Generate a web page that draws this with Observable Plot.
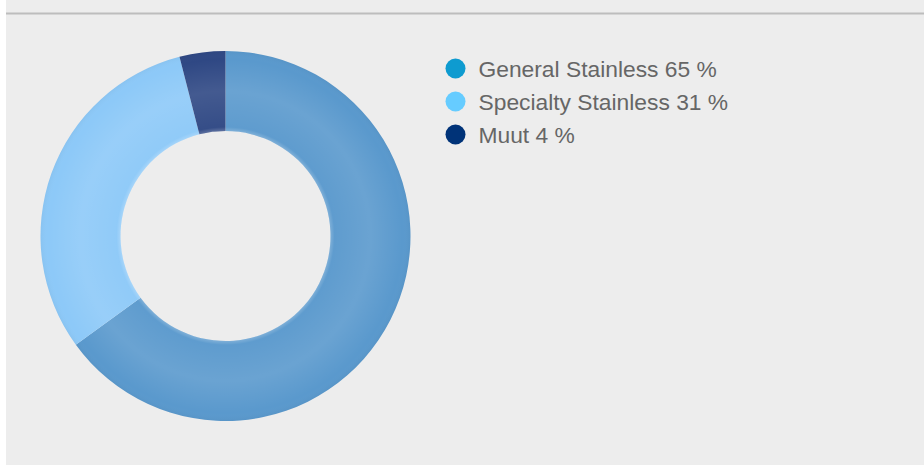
<!DOCTYPE html>
<html>
<head>
<meta charset="utf-8">
<script src="https://cdn.jsdelivr.net/npm/d3@7"></script>
<script src="https://cdn.jsdelivr.net/npm/@observablehq/plot@0.6"></script>
<style>
  html, body { margin: 0; padding: 0; background: #ffffff; }
  #chart { position: absolute; left: 6px; top: 0; }
  svg { display: block; }
</style>
</head>
<body>
<div id="chart"></div>
<script>
// Data
const categories = ["General Stainless", "Specialty Stainless", "Muut"];
const shares = [65, 31, 4];
const sliceColors = ["#5a99cd", "#8dc9f8", "#2f4884"];
const legendColors = ["#0e9bd0", "#66ccff", "#003378"];

const data = categories.map((c, i) => ({category: c, value: shares[i], label: `${c} ${shares[i]} %`}));

const W = 918, H = 465;
const cx = 219.5, cy = 236, rOuter = 185, rInner = 105;

function donutMark(index, scales, values, dimensions) {
  const ns = "http://www.w3.org/2000/svg";
  const g = document.createElementNS(ns, "g");
  const X = scales.x(cx), Y = scales.y(cy);
  const pie = d3.pie().sort(null).value(d => d.value);
  const arc = d3.arc().innerRadius(rInner).outerRadius(rOuter);
  const arcs = pie(data);
  const defs = document.createElementNS(ns, "defs");
  defs.innerHTML = `
    <radialGradient id="ringShade" gradientUnits="userSpaceOnUse" cx="0" cy="0" r="${rOuter}">
      <stop offset="${rInner / rOuter}" stop-color="#ffffff" stop-opacity="0.22"/>
      <stop offset="${(rInner + 4) / rOuter}" stop-color="#ffffff" stop-opacity="0.03"/>
      <stop offset="${(rInner + 40) / rOuter}" stop-color="#ffffff" stop-opacity="0.10"/>
      <stop offset="${(rOuter - 8) / rOuter}" stop-color="#ffffff" stop-opacity="0.0"/>
      <stop offset="1" stop-color="#000000" stop-opacity="0.03"/>
    </radialGradient>`;
  g.appendChild(defs);
  const inner = document.createElementNS(ns, "g");
  inner.setAttribute("transform", `translate(${X},${Y})`);
  arcs.forEach((a, i) => {
    const p = document.createElementNS(ns, "path");
    p.setAttribute("d", arc(a));
    p.setAttribute("fill", sliceColors[categories.indexOf(a.data.category)]);
    inner.appendChild(p);
  });
  const ring = document.createElementNS(ns, "path");
  ring.setAttribute("d", d3.arc().innerRadius(rInner).outerRadius(rOuter)({startAngle: 0, endAngle: 2 * Math.PI}));
  ring.setAttribute("fill", "url(#ringShade)");
  inner.appendChild(ring);
  g.appendChild(inner);
  return g;
}

const legendY = [68, 101, 134];

const plot = Plot.plot({
  width: W,
  height: H,
  margin: 0,
  style: {background: "#ededed", fontFamily: "'Liberation Sans', Arial, sans-serif"},
  x: {type: "linear", domain: [0, W], range: [0, W], axis: null},
  y: {type: "linear", domain: [0, H], range: [0, H], axis: null},
  marks: [
    Plot.ruleY([13], {stroke: "#bdbdbd", strokeWidth: 2}),
    donutMark,
    Plot.dot(data, {x: () => 449, y: (d, i) => legendY[i], r: 10, fill: (d, i) => legendColors[i], stroke: null}),
    Plot.text(data, {x: () => 472, y: (d, i) => legendY[i], text: "label", textAnchor: "start", fill: "#666666", fontSize: 22.8, dy: 1})
  ]
});
document.getElementById("chart").appendChild(plot);
</script>
</body>
</html>
